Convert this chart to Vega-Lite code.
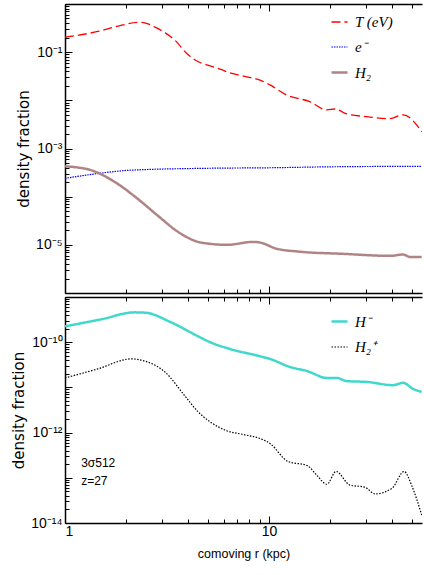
{
  "$schema": "https://vega.github.io/schema/vega-lite/v6.json",
  "background": "white",
  "padding": {"left": 11, "top": 3, "right": 0, "bottom": 2},
  "spacing": 2,
  "config": {
    "view": {"stroke": null},
    "axis": {
      "domainColor": "black", "domainWidth": 1.5, "tickColor": "black", "tickWidth": 1,
      "labelColor": "black", "titleColor": "black", "grid": false,
      "labelFont": "Liberation Sans", "labelFontSize": 14,
      "titleFont": "Liberation Sans", "titleFontSize": 12.5, "titleFontWeight": "normal"
    },
    "legend": {
      "orient": "none", "symbolType": "stroke", "symbolSize": 256,
      "labelFont": "Liberation Serif", "labelFontStyle": "italic", "labelFontSize": 15,
      "labelColor": "black", "rowPadding": 8, "labelOffset": 6, "padding": 0
    },
    "text": {"font": "Liberation Sans", "fontSize": 12, "color": "black"}
  },
  "resolve": {
    "scale": {"color": "independent", "strokeDash": "independent", "strokeWidth": "independent"},
    "legend": {"color": "independent", "strokeDash": "independent", "strokeWidth": "independent"}
  },
  "datasets": {
    "top": [
      {"r": 1.0, "frac": 0.204, "species": "T (eV)"},
      {"r": 1.45, "frac": 0.269, "species": "T (eV)"},
      {"r": 1.9, "frac": 0.363, "species": "T (eV)"},
      {"r": 2.28, "frac": 0.417, "species": "T (eV)"},
      {"r": 2.5, "frac": 0.398, "species": "T (eV)"},
      {"r": 2.76, "frac": 0.331, "species": "T (eV)"},
      {"r": 3.1, "frac": 0.251, "species": "T (eV)"},
      {"r": 3.45, "frac": 0.178, "species": "T (eV)"},
      {"r": 4.0, "frac": 0.0891, "species": "T (eV)"},
      {"r": 4.5, "frac": 0.0631, "species": "T (eV)"},
      {"r": 5.1, "frac": 0.0525, "species": "T (eV)"},
      {"r": 5.8, "frac": 0.0437, "species": "T (eV)"},
      {"r": 6.44, "frac": 0.0372, "species": "T (eV)"},
      {"r": 7.7, "frac": 0.0309, "species": "T (eV)"},
      {"r": 9.03, "frac": 0.0263, "species": "T (eV)"},
      {"r": 10.1, "frac": 0.0209, "species": "T (eV)"},
      {"r": 12.2, "frac": 0.0129, "species": "T (eV)"},
      {"r": 15.9, "frac": 0.00933, "species": "T (eV)"},
      {"r": 19.2, "frac": 0.00631, "species": "T (eV)"},
      {"r": 21.0, "frac": 0.00661, "species": "T (eV)"},
      {"r": 24.0, "frac": 0.00525, "species": "T (eV)"},
      {"r": 30.2, "frac": 0.00457, "species": "T (eV)"},
      {"r": 39.2, "frac": 0.00417, "species": "T (eV)"},
      {"r": 45.4, "frac": 0.00501, "species": "T (eV)"},
      {"r": 56.0, "frac": 0.00224, "species": "T (eV)"},
      {"r": 1.0, "frac": 0.00024, "species": "e⁻"},
      {"r": 1.45, "frac": 0.000302, "species": "e⁻"},
      {"r": 2.1, "frac": 0.000355, "species": "e⁻"},
      {"r": 5.1, "frac": 0.000389, "species": "e⁻"},
      {"r": 10.0, "frac": 0.000398, "species": "e⁻"},
      {"r": 20.0, "frac": 0.000417, "species": "e⁻"},
      {"r": 56.0, "frac": 0.000427, "species": "e⁻"},
      {"r": 1.0, "frac": 0.000427, "species": "H₂"},
      {"r": 1.34, "frac": 0.000355, "species": "H₂"},
      {"r": 1.76, "frac": 0.0002, "species": "H₂"},
      {"r": 2.28, "frac": 0.000089, "species": "H₂"},
      {"r": 2.86, "frac": 0.0000398, "species": "H₂"},
      {"r": 3.58, "frac": 0.0000186, "species": "H₂"},
      {"r": 4.49, "frac": 0.0000115, "species": "H₂"},
      {"r": 5.14, "frac": 0.0000105, "species": "H₂"},
      {"r": 6.2, "frac": 0.00001, "species": "H₂"},
      {"r": 8.35, "frac": 0.0000115, "species": "H₂"},
      {"r": 9.0, "frac": 0.0000112, "species": "H₂"},
      {"r": 10.9, "frac": 0.0000083, "species": "H₂"},
      {"r": 14.2, "frac": 0.0000072, "species": "H₂"},
      {"r": 23.1, "frac": 0.0000065, "species": "H₂"},
      {"r": 39.2, "frac": 0.0000059, "species": "H₂"},
      {"r": 45.4, "frac": 0.0000063, "species": "H₂"},
      {"r": 49.0, "frac": 0.0000056, "species": "H₂"},
      {"r": 56.0, "frac": 0.0000056, "species": "H₂"}
    ],
    "bottom": [
      {"r": 1.0, "frac": 2.24e-10, "species": "H⁻"},
      {"r": 1.5, "frac": 3.2e-10, "species": "H⁻"},
      {"r": 2.2, "frac": 4.57e-10, "species": "H⁻"},
      {"r": 2.47, "frac": 4.5e-10, "species": "H⁻"},
      {"r": 3.31, "frac": 2.75e-10, "species": "H⁻"},
      {"r": 4.49, "frac": 1.35e-10, "species": "H⁻"},
      {"r": 5.14, "frac": 1.0e-10, "species": "H⁻"},
      {"r": 6.44, "frac": 7.08e-11, "species": "H⁻"},
      {"r": 9.03, "frac": 4.9e-11, "species": "H⁻"},
      {"r": 10.1, "frac": 4.27e-11, "species": "H⁻"},
      {"r": 12.7, "frac": 2.82e-11, "species": "H⁻"},
      {"r": 15.4, "frac": 2.29e-11, "species": "H⁻"},
      {"r": 19.2, "frac": 1.62e-11, "species": "H⁻"},
      {"r": 21.5, "frac": 1.62e-11, "species": "H⁻"},
      {"r": 24.0, "frac": 1.38e-11, "species": "H⁻"},
      {"r": 30.2, "frac": 1.32e-11, "species": "H⁻"},
      {"r": 40.5, "frac": 1.12e-11, "species": "H⁻"},
      {"r": 45.4, "frac": 1.26e-11, "species": "H⁻"},
      {"r": 50.8, "frac": 9.3e-12, "species": "H⁻"},
      {"r": 56.0, "frac": 7.9e-12, "species": "H⁻"},
      {"r": 1.0, "frac": 1.62e-11, "species": "H₂⁺"},
      {"r": 1.45, "frac": 2.57e-11, "species": "H₂⁺"},
      {"r": 2.11, "frac": 4.27e-11, "species": "H₂⁺"},
      {"r": 2.47, "frac": 3.8e-11, "species": "H₂⁺"},
      {"r": 3.09, "frac": 2.19e-11, "species": "H₂⁺"},
      {"r": 3.87, "frac": 6.46e-12, "species": "H₂⁺"},
      {"r": 4.49, "frac": 2.88e-12, "species": "H₂⁺"},
      {"r": 5.14, "frac": 1.74e-12, "species": "H₂⁺"},
      {"r": 6.2, "frac": 1.1e-12, "species": "H₂⁺"},
      {"r": 7.46, "frac": 9.1e-13, "species": "H₂⁺"},
      {"r": 9.03, "frac": 7.4e-13, "species": "H₂⁺"},
      {"r": 10.1, "frac": 5.75e-13, "species": "H₂⁺"},
      {"r": 12.4, "frac": 2.29e-13, "species": "H₂⁺"},
      {"r": 15.4, "frac": 1.86e-13, "species": "H₂⁺"},
      {"r": 17.2, "frac": 1.12e-13, "species": "H₂⁺"},
      {"r": 19.2, "frac": 7.2e-14, "species": "H₂⁺"},
      {"r": 21.3, "frac": 1.38e-13, "species": "H₂⁺"},
      {"r": 24.9, "frac": 6.9e-14, "species": "H₂⁺"},
      {"r": 29.5, "frac": 6.2e-14, "species": "H₂⁺"},
      {"r": 33.1, "frac": 4.4e-14, "species": "H₂⁺"},
      {"r": 40.1, "frac": 5.9e-14, "species": "H₂⁺"},
      {"r": 45.9, "frac": 1.38e-13, "species": "H₂⁺"},
      {"r": 50.2, "frac": 6.5e-14, "species": "H₂⁺"},
      {"r": 56.0, "frac": 1.5e-14, "species": "H₂⁺"}
    ],
    "notes": [
      {"r": 1.2, "frac": 2.1e-13, "label": "3σ512"},
      {"r": 1.2, "frac": 8.3e-14, "label": "z=27"}
    ]
  },
  "vconcat": [
    {
      "width": 357,
      "height": 289,
      "layer": [
        {
          "data": {"name": "top"},
          "mark": {"type": "line", "clip": true, "interpolate": "monotone"},
          "encoding": {
            "x": {
              "field": "r", "type": "quantitative",
              "scale": {"type": "log", "domain": [1, 56.2], "nice": false},
              "axis": {
                "orient": "bottom", "title": null, "labels": false,
                "values": [1, 2, 3, 4, 5, 6, 7, 8, 9, 10, 20, 30, 40, 50],
                "tickSize": {"condition": {"test": "datum.value == 1 || datum.value == 10", "value": -7}, "value": -4}
              }
            },
            "y": {
              "field": "frac", "type": "quantitative",
              "scale": {"type": "log", "domain": [0.000001, 1], "nice": false},
              "axis": {
                "title": "density fraction", "titleFont": "DejaVu Sans", "titleFontSize": 15,
                "labelPadding": 10,
                "values": [0.000001, 0.000002, 0.000003, 0.000004, 0.000005, 0.000006, 0.000007, 0.000008, 0.000009,
                           0.00001, 0.00002, 0.00003, 0.00004, 0.00005, 0.00006, 0.00007, 0.00008, 0.00009,
                           0.0001, 0.0002, 0.0003, 0.0004, 0.0005, 0.0006, 0.0007, 0.0008, 0.0009,
                           0.001, 0.002, 0.003, 0.004, 0.005, 0.006, 0.007, 0.008, 0.009,
                           0.01, 0.02, 0.03, 0.04, 0.05, 0.06, 0.07, 0.08, 0.09,
                           0.1, 0.2, 0.3, 0.4, 0.5, 0.6, 0.7, 0.8, 0.9, 1],
                "labelExpr": "datum.value == 0.1 ? '10⁻¹' : datum.value == 0.001 ? '10⁻³' : datum.value == 0.00001 ? '10⁻⁵' : ''",
                "tickSize": {"condition": {"test": "abs(log(datum.value)/LN10 - round(log(datum.value)/LN10)) < 0.01", "value": -7}, "value": -4}
              }
            },
            "color": {
              "field": "species", "type": "nominal",
              "scale": {"domain": ["T (eV)", "e⁻", "H₂"], "range": ["#ff0000", "#0000ff", "#b08484"]},
              "legend": {"title": null, "legendX": 265, "legendY": 9}
            },
            "strokeDash": {
              "field": "species", "type": "nominal",
              "scale": {"domain": ["T (eV)", "e⁻", "H₂"], "range": [[9, 4], [1.5, 1], [1, 0]]},
              "legend": {"title": null, "legendX": 265, "legendY": 9}
            },
            "strokeWidth": {
              "field": "species", "type": "nominal",
              "scale": {"type": "ordinal", "domain": ["T (eV)", "e⁻", "H₂"], "range": [1.3, 1.2, 2.5]},
              "legend": {"title": null, "legendX": 265, "legendY": 9}
            }
          }
        },
        {
          "data": {"name": "top"},
          "mark": {"type": "point", "opacity": 0},
          "encoding": {
            "x": {
              "field": "r", "type": "quantitative",
              "scale": {"type": "log", "domain": [1, 56.2], "nice": false},
              "axis": {
                "orient": "top", "title": null, "labels": false,
                "values": [1, 2, 3, 4, 5, 6, 7, 8, 9, 10, 20, 30, 40, 50],
                "tickSize": {"condition": {"test": "datum.value == 1 || datum.value == 10", "value": -7}, "value": -4}
              }
            }
          }
        }
      ],
      "resolve": {"axis": {"x": "independent"}}
    },
    {
      "width": 357,
      "height": 226,
      "layer": [
        {
          "data": {"name": "bottom"},
          "mark": {"type": "line", "clip": true, "interpolate": "monotone"},
          "encoding": {
            "x": {
              "field": "r", "type": "quantitative",
              "scale": {"type": "log", "domain": [1, 56.2], "nice": false},
              "axis": {
                "orient": "bottom", "title": "comoving r (kpc)", "labelPadding": 8, "titlePadding": 9,
                "values": [1, 2, 3, 4, 5, 6, 7, 8, 9, 10, 20, 30, 40, 50],
                "labelExpr": "datum.value == 1 || datum.value == 10 ? datum.label : ''",
                "tickSize": {"condition": {"test": "datum.value == 1 || datum.value == 10", "value": -7}, "value": -4}
              }
            },
            "y": {
              "field": "frac", "type": "quantitative",
              "scale": {"type": "log", "domain": [1e-14, 1e-9], "nice": false},
              "axis": {
                "title": "density fraction", "titleFont": "DejaVu Sans", "titleFontSize": 15,
                "labelPadding": 10,
                "values": [1e-14, 2e-14, 3e-14, 4e-14, 5e-14, 6e-14, 7e-14, 8e-14, 9e-14,
                           1e-13, 2e-13, 3e-13, 4e-13, 5e-13, 6e-13, 7e-13, 8e-13, 9e-13,
                           1e-12, 2e-12, 3e-12, 4e-12, 5e-12, 6e-12, 7e-12, 8e-12, 9e-12,
                           1e-11, 2e-11, 3e-11, 4e-11, 5e-11, 6e-11, 7e-11, 8e-11, 9e-11,
                           1e-10, 2e-10, 3e-10, 4e-10, 5e-10, 6e-10, 7e-10, 8e-10, 9e-10, 1e-9],
                "labelExpr": "datum.value == 0.0000000001 ? '10⁻¹⁰' : datum.value == 0.000000000001 ? '10⁻¹²' : datum.value == 0.00000000000001 ? '10⁻¹⁴' : ''",
                "tickSize": {"condition": {"test": "abs(log(datum.value)/LN10 - round(log(datum.value)/LN10)) < 0.01", "value": -7}, "value": -4}
              }
            },
            "color": {
              "field": "species", "type": "nominal",
              "scale": {"domain": ["H⁻", "H₂⁺"], "range": ["#40d8cc", "#000000"]},
              "legend": {"title": null, "legendX": 265, "legendY": 15}
            },
            "strokeDash": {
              "field": "species", "type": "nominal",
              "scale": {"domain": ["H⁻", "H₂⁺"], "range": [[1, 0], [1.5, 1.5]]},
              "legend": {"title": null, "legendX": 265, "legendY": 15}
            },
            "strokeWidth": {
              "field": "species", "type": "nominal",
              "scale": {"type": "ordinal", "domain": ["H⁻", "H₂⁺"], "range": [2.5, 1.2]},
              "legend": {"title": null, "legendX": 265, "legendY": 15}
            }
          }
        },
        {
          "data": {"name": "bottom"},
          "mark": {"type": "point", "opacity": 0},
          "encoding": {
            "x": {
              "field": "r", "type": "quantitative",
              "scale": {"type": "log", "domain": [1, 56.2], "nice": false},
              "axis": {
                "orient": "top", "title": null, "labels": false,
                "values": [1, 2, 3, 4, 5, 6, 7, 8, 9, 10, 20, 30, 40, 50],
                "tickSize": {"condition": {"test": "datum.value == 1 || datum.value == 10", "value": -7}, "value": -4}
              }
            }
          }
        },
        {
          "data": {"name": "notes"},
          "mark": {"type": "text", "align": "left", "baseline": "middle"},
          "encoding": {
            "x": {"field": "r", "type": "quantitative", "scale": {"type": "log", "domain": [1, 56.2], "nice": false}, "axis": null},
            "y": {"field": "frac", "type": "quantitative"},
            "text": {"field": "label"}
          }
        }
      ],
      "resolve": {"axis": {"x": "independent"}}
    }
  ]
}
